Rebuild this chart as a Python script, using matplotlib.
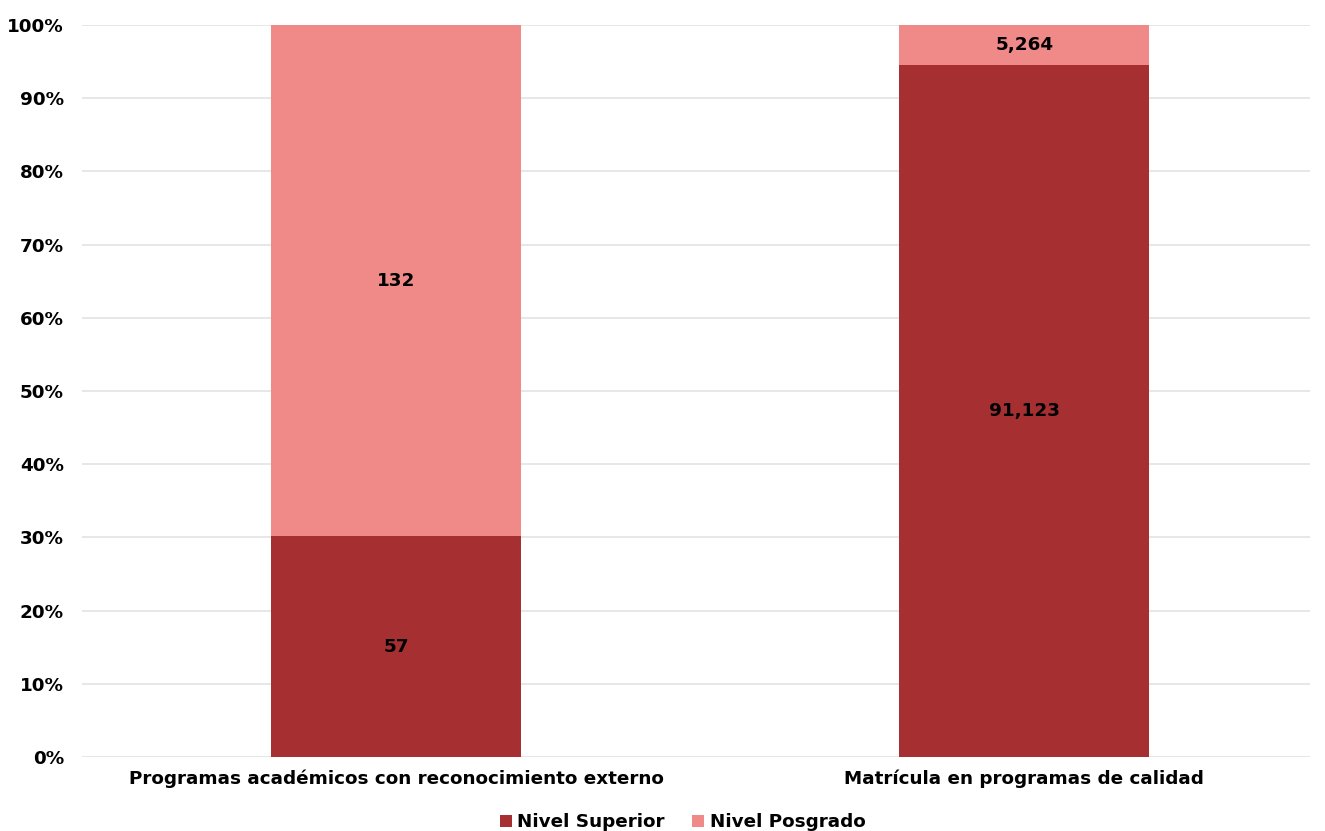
import matplotlib.pyplot as plt
import numpy as np

categorias = ["Programas académicos con reconocimiento externo",
              "Matrícula en programas de calidad"]
nivel_superior = [57, 91123]
nivel_posgrado = [132, 5264]
series = ["Nivel Superior", "Nivel Posgrado"]
colores = ["#A52F31", "#EF8A89"]

plt.rcParams['font.family'] = ['DejaVu Sans']
plt.rcParams['font.weight'] = 'bold'

sup = np.array(nivel_superior, dtype=float)
pos = np.array(nivel_posgrado, dtype=float)
total = sup + pos
sup_pct = sup / total * 100
pos_pct = pos / total * 100

fig = plt.figure(figsize=(13.25, 8.31), dpi=100)
ax = fig.add_axes([0.0619, 0.089, 0.9268, 0.881])

x = np.arange(len(categorias))
w = 0.398
ax.bar(x, sup_pct, w, color=colores[0], label=series[0], zorder=2)
ax.bar(x, pos_pct, w, bottom=sup_pct, color=colores[1], label=series[1], zorder=2)

fs = 13.2
for i in range(len(x)):
    ax.text(x[i], sup_pct[i] / 2, f"{nivel_superior[i]:,}", ha='center', va='center',
            fontsize=fs, fontweight='bold', color='black', zorder=3)
    ax.text(x[i], sup_pct[i] + pos_pct[i] / 2, f"{nivel_posgrado[i]:,}", ha='center', va='center',
            fontsize=fs, fontweight='bold', color='black', zorder=3)

ax.set_ylim(0, 100)
ax.set_xlim(-0.5, 1.455)
ax.set_yticks(np.arange(0, 101, 10))
ax.set_yticklabels([f"{v}%" for v in range(0, 101, 10)])
ax.set_xticks(x)
ax.set_xticklabels(categorias)
ax.tick_params(axis='both', length=0, labelsize=fs)
ax.tick_params(axis='y', pad=13)
ax.tick_params(axis='x', pad=9)
ax.yaxis.grid(True, color='#E3E3E3', linewidth=1.2, zorder=0)
for s in ax.spines.values():
    s.set_visible(False)

ax.legend(loc='upper center', bbox_to_anchor=(0.489, -0.054), ncol=2, frameon=False,
          fontsize=fs, handlelength=0.65, handleheight=0.65, handletextpad=0.3,
          columnspacing=1.5)

fig.savefig("out.png", dpi=100, facecolor='white')
